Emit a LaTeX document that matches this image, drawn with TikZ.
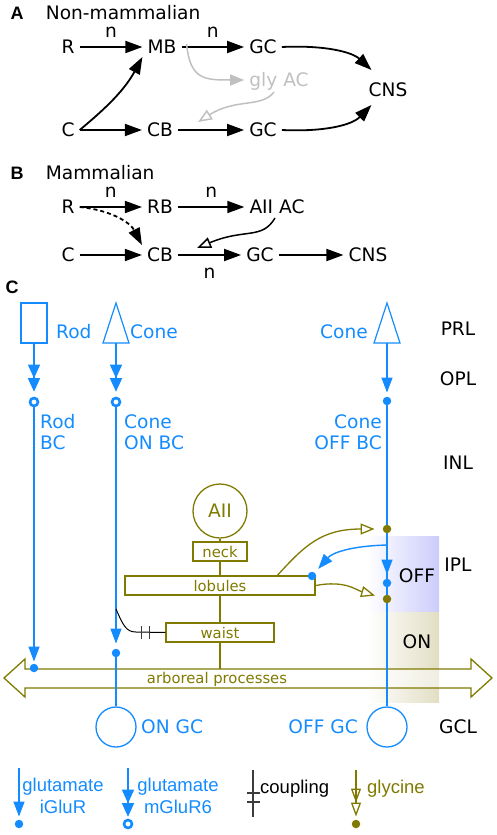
\documentclass[tikz,border=0pt]{standalone}
\usepackage{fontspec}
\setmainfont{DejaVu Sans}
\newfontfamily\legfont{Liberation Sans}
\usetikzlibrary{positioning}
\usetikzlibrary{arrows.meta}
\usetikzlibrary{calc}
\definecolor{retblue}{RGB}{20,140,255}
\definecolor{aiiolive}{RGB}{128,122,0}
\definecolor{glygray}{RGB}{192,192,192}
\definecolor{offshade}{RGB}{204,204,252}
\definecolor{onshade}{RGB}{226,222,196}
\definecolor{cplgray}{RGB}{60,60,60}

\begin{document}
\begin{tikzpicture}[x=1pt, y=-1pt, >={Triangle[length=17pt,width=12pt]},
every node/.style={font=\fontsize{18.6}{21}\selectfont},
lab/.style={inner xsep=5pt, inner ysep=3pt, text height=13.6pt, text depth=0pt},
head/.style={inner sep=0pt, font=\legfont\bfseries\fontsize{18}{21}\selectfont},
arr/.style={->, line width=1.8pt},
garr/.style={glygray, line width=1.5pt, -{Triangle[length=14pt,width=11pt]}},
gopen/.style={glygray, line width=1.5pt, -{Triangle[open,length=14pt,width=11pt]}},
kopen/.style={line width=1.5pt, -{Triangle[open,length=14pt,width=11pt]}},
bline/.style={retblue, line width=1.4pt},
glu/.style={bline, -{Triangle[length=15pt,width=11pt]}},
glum/.style={bline, -{Triangle[length=13.5pt,width=12pt] Triangle[length=13.5pt,width=12pt]}},
oline/.style={aiiolive, line width=1.3pt},
gly/.style={oline, -{Triangle[open,length=14pt,width=11pt]}},
glyy/.style={oline, -{Triangle[open,length=14pt,width=10pt] Triangle[open,length=14pt,width=10pt]}},
bdot/.style={circle, fill=retblue, inner sep=0pt, minimum size=8.5pt},
bring/.style={circle, draw=retblue, fill=white, line width=2.6pt, inner sep=0pt, minimum size=8pt},
odot/.style={circle, fill=aiiolive, inner sep=0pt, minimum size=8.5pt},
part/.style={draw=aiiolive, line width=1.3pt, text=aiiolive, inner sep=0pt, minimum height=19pt, font=\fontsize{14.8}{17}\selectfont},
gc/.style={circle, draw=retblue, line width=1.3pt, inner sep=0pt, minimum size=40pt},
leg/.style={font=\legfont\fontsize{18.5}{22}\selectfont, inner sep=0pt}]
\useasboundingbox (0,0) rectangle (496,835);

% A: non-mammalian
\node[head] (Alab) at (17,13) {A};
\node[lab, right=17pt of Alab] (Atitle) {Non-mammalian};
\node[lab] (aR) at (68,47) {R};
\node[lab] (aMB) at (162,47) {MB};
\node[lab] (aGC1) at (263,47) {GC};
\node[lab] (aC) at (68,130) {C};
\node[lab] (aCB) at (160,130) {CB};
\node[lab] (aGC2) at (263,130) {GC};
\node[lab] (aCNS) at (388,90) {CNS};
\node[lab, text=glygray] (gly) at (279,80) {gly AC};

\draw[arr] (aR) -- (aMB) node[lab, midway, above=6pt] {n};
\draw[arr] (aMB) -- (aGC1) node[lab, midway, above=6pt] {n};
\draw[arr] (aC.east) .. controls (100,113) and (123,93) .. (aMB.south west);
\draw[arr] (aC.east) -- (aCB);
\draw[arr] (aCB) -- (aGC2);
\draw[arr] (aGC1.east) .. controls (325,45) and (352,52) .. ([shift={(8,-10)}]aCNS.north west);
\draw[arr] (aGC2.east) .. controls (325,132) and (352,125) .. ([shift={(8,5)}]aCNS.south west);
% glycinergic AC
\draw[garr] ([shift={(5,-3)}]aMB.east) .. controls (190,80) and (205,80) .. (gly.west);
\draw[gopen] ([shift={(-5,2)}]gly.south) .. controls (262,108) and (236,98) .. ([shift={(20,2)}]aCB.north east);

% B: mammalian
\node[head] (Blab) at (17,173) {B};
\node[lab, right=17pt of Blab] (Btitle) {Mammalian};
\node[lab] (bR) at (68,207) {R};
\node[lab] (bRB) at (160,207) {RB};
\node[lab] (bAII) at (277,207) {AII AC};
\node[lab] (bC) at (68,255) {C};
\node[lab] (bCB) at (160,255) {CB};
\node[lab] (bGC) at (260,255) {GC};
\node[lab] (bCNS) at (368,255) {CNS};

\draw[arr] (bR) -- (bRB) node[lab, midway, above=6pt] {n};
\draw[arr] (bRB) -- (bAII) node[lab, midway, above=6pt] {n};
\draw[arr, dash pattern=on 4pt off 3pt] (bR.east) .. controls (110,210) and (130,222) .. (bCB.north west);
\draw[kopen] ([shift={(-2,1)}]bAII.south) .. controls (262,240) and (245,228) .. ([shift={(19,3)}]bCB.north east);
\draw[arr] (bC) -- (bCB);
\draw[arr] (bCB) -- (bGC) node[lab, midway, below=5.5pt] {n};
\draw[arr] (bGC) -- (bCNS);

% C: circuit
\node[head] (Clab) at (12,287) {C};

% IPL sublaminae
\shade[left color=white, right color=offshade] (367,536) rectangle (439,612);
\shade[left color=white, right color=onshade] (367,612) rectangle (439,702);
\node[lab] (offl) at (417,576) {OFF};
\node[lab] (onl) at (417,642) {ON};

% layers
\node[lab] (prl) at (458,329) {PRL};
\node[lab] (opl) at (458,379) {OPL};
\node[lab] (inl) at (458,463) {INL};
\node[lab] (ipl) at (458,565) {IPL};
\node[lab] (gcl) at (458,727) {GCL};

% arboreal processes
\draw[oline, fill=white, fill opacity=0.5] (4,678) -- (25,659) -- (25,669) -- (471,669) -- (471,659) -- (492,678) -- (471,697) -- (471,688) -- (25,688) -- (25,697) -- cycle;
\node[text=aiiolive, inner sep=0pt, text height=10.8pt, text depth=0pt, font=\fontsize{14.8}{17}\selectfont] (arbor) at (217,678) {arboreal processes};
\coordinate (bandjoin) at (220,669);

% AII amacrine cell
\node[circle, draw=aiiolive, line width=1.3pt, text=aiiolive, minimum size=54pt, inner sep=0pt] (aii) at (220,511) {AII};
\node[part, minimum width=54pt] (neck) at (220,551.5) {neck};
\node[part, minimum width=190pt] (lob) at (220,585.5) {lobules};
\node[part, minimum width=108pt] (waist) at (220,632.5) {waist};
\draw[oline] (aii) -- (neck);
\draw[oline] (neck) -- (lob);
\draw[oline] (lob) -- (waist);
\draw[oline] (waist) -- (bandjoin);

% photoreceptors
\node[draw=retblue, line width=1.2pt, minimum width=26pt, minimum height=40pt, inner sep=0pt] (rod) at (34,323) {};
\draw[retblue, line width=1.2pt] (116,303) -- (129,343) -- (103,343) -- cycle;
\coordinate (cone1) at (116,343);
\draw[retblue, line width=1.2pt] (387,303) -- (400,343) -- (374,343) -- cycle;
\coordinate (cone2) at (387,343);
\node[lab, text=retblue, anchor=west] (rodlab) at (51,332) {Rod};
\node[lab, text=retblue, anchor=west] (cone1lab) at (125,332) {Cone};
\node[lab, text=retblue, anchor=east] (cone2lab) at (373,332) {Cone};

% bipolar cells
\node[bring] (rodsyn) at (34,402) {};
\node[bring] (onsyn) at (116,402) {};
\node[bdot] (offsyn) at (387,401) {};
\node[text=retblue, inner sep=0pt, align=left, anchor=north west] (rodbc) at (40,414.5) {Rod\\BC};
\node[text=retblue, inner sep=0pt, align=left, anchor=north west] (onbc) at (124,414.5) {Cone\\ON BC};
\node[text=retblue, inner sep=0pt, align=right, anchor=north east] (offbc) at (382,414.5) {Cone\\OFF BC};

% ganglion cells
\node[gc] (ongc) at (116,727) {};
\node[gc] (offgc) at (387,727) {};
\node[lab, text=retblue, anchor=west] (ongclab) at (136,727) {ON GC};
\node[lab, text=retblue, anchor=east] (offgclab) at (363,727) {OFF GC};

% outputs of the bipolar cells
\node[bdot] (rodout) at (34,668) {};
\node[bdot] (onout) at (116,653) {};
\node[bdot] (offout) at (387,583) {};
\node[bdot] (lobsyn) at (312,576) {};
\coordinate (offbr) at (387,545);

\draw[glum, shorten >=5pt] (rod) -- (rodsyn);
\draw[glum, shorten >=5pt] (cone1) -- (onsyn);
\draw[glu, shorten >=4pt] (cone2) -- (offsyn);
\draw[glu, shorten >=2pt] (rodsyn) -- (rodout);
\draw[glu, shorten >=5pt] (onsyn) -- (onout);
\draw[bline] (onout) -- (ongc);
\draw[bline] (offsyn) -- (offgc);
\draw[glu, shorten >=4pt] (offbr) -- (offout);
\draw[glu, shorten >=5pt] (offbr) .. controls (350,546) and (332,553) .. (lobsyn);

% glycine outputs of AII
\node[odot] (glyA) at (387,529) {};
\node[odot] (glyB) at (387,599) {};
\draw[gly, shorten >=8pt] ($(lob.north west)!0.8!(lob.north east)$) .. controls (305,545) and (322,529) .. (glyA);
\draw[gly, shorten >=8pt] (lob.east) .. controls (345,580) and (356,590) .. (glyB);

% coupling to cone ON BC
\coordinate (cplstart) at (116,609);
\draw[line width=1pt] (cplstart) .. controls (123,625) and (126,632) .. (136,632) -- (waist.west);
\draw[cplgray, line width=1.6pt] ([shift={(-24,-6.5)}]waist.west) -- +(0,13);
\draw[cplgray, line width=1.6pt] ([shift={(-16,-6.5)}]waist.west) -- +(0,13);

% legend
\coordinate (lg1) at (19,768);
\node[bdot] (lg1d) at (19,824) {};
\draw[glu, shorten >=3pt] (lg1) -- (lg1d);
\node[leg, text=retblue, align=center] (lg1t) at (63,796) {glutamate\\iGluR};

\coordinate (lg2) at (128,768);
\node[bring] (lg2d) at (128,824) {};
\draw[glum, shorten >=2pt] (lg2) -- (lg2d);
\node[leg, text=retblue, align=center] (lg2t) at (178,796) {glutamate\\mGluR6};

\coordinate (lg3a) at (253,770);
\coordinate (lg3b) at (253,817);
\draw[cplgray, line width=1.6pt] (lg3a) -- (lg3b);
\draw[cplgray, line width=1.6pt] (247,793) -- (260,793);
\draw[cplgray, line width=1.6pt] (247,802) -- (260,802);
\node[leg, anchor=west, text height=13.3pt, text depth=0pt] (lg3t) at (260,787) {coupling};

\coordinate (lg4) at (356,770);
\node[odot] (lg4d) at (356,824) {};
\draw[glyy, shorten >=3pt] (lg4) -- (lg4d);
\node[leg, text=aiiolive, anchor=west, text height=13.3pt, text depth=0pt] (lg4t) at (367,787) {glycine};

\end{tikzpicture}
\end{document}
